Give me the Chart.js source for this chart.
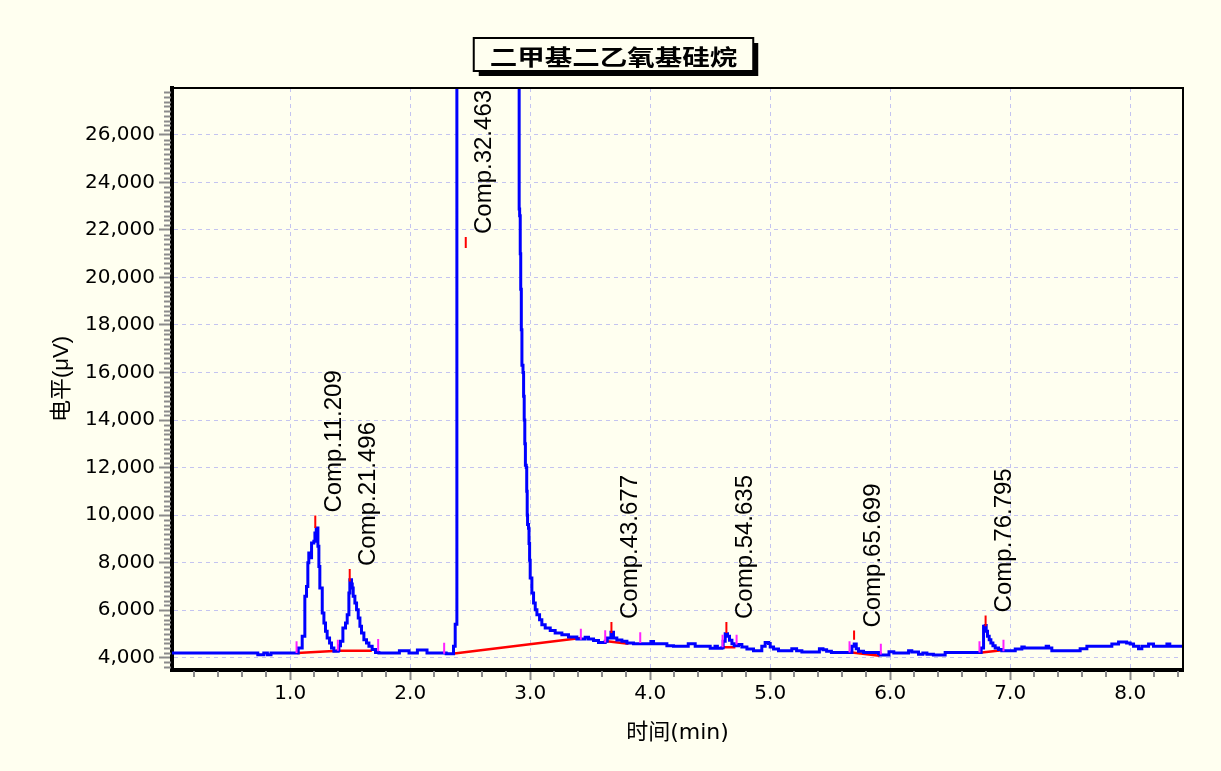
<!DOCTYPE html>
<html>
<head>
<meta charset="utf-8">
<script src="https://cdn.jsdelivr.net/npm/chart.js@4.4.1/dist/chart.umd.min.js"></script>
<style>
  html, body { margin: 0; padding: 0; background: #fffff0; }
  canvas { display: block; }
</style>
</head>
<body>
<canvas id="myChart" width="1221" height="771"></canvas>
<script>
const chartTitle = '二甲基二乙氧基硅烷';
const xTitle = '时间(min)';
const yTitle = '电平(μV)';
const xTickValues = [1, 2, 3, 4, 5, 6, 7, 8];
const yTickValues = [4000, 6000, 8000, 10000, 12000, 14000, 16000, 18000, 20000, 22000, 24000, 26000];

// detector trace (min, μV), held until the next point
const traceTime = [
  0.015, 0.73, 0.78, 0.81, 0.84, 1.067, 1.10, 1.122, 1.136, 1.147, 1.155, 1.161, 1.178, 1.197, 1.206, 1.217,
  1.231, 1.239, 1.247, 1.267, 1.281, 1.294, 1.308, 1.328, 1.344, 1.364, 1.40, 1.406, 1.419, 1.439, 1.461,
  1.475, 1.489, 1.497, 1.511, 1.517, 1.525, 1.539, 1.553, 1.567, 1.581, 1.594, 1.614, 1.636, 1.656, 1.683,
  1.711, 1.739, 1.91, 1.99, 2.06, 2.14, 2.30, 2.361, 2.375, 2.389,
  2.908, 2.912, 2.917, 2.921, 2.926, 2.931, 2.94, 2.945, 2.95, 2.955, 2.96, 2.967, 2.971, 2.975, 2.978,
  2.986, 2.99, 2.995, 3.0, 3.014, 3.028, 3.042, 3.056, 3.078, 3.097, 3.125, 3.167, 3.208, 3.264, 3.319,
  3.389, 3.458, 3.486, 3.528, 3.569, 3.625, 3.642, 3.673, 3.694, 3.722, 3.764, 3.806, 3.861, 4.006, 4.028,
  4.139, 4.194, 4.317, 4.375, 4.50, 4.54, 4.56, 4.597, 4.608, 4.625, 4.644, 4.661, 4.681, 4.70, 4.736,
  4.764, 4.806, 4.861, 4.93, 4.958, 4.986, 5.0, 5.028, 5.069, 5.18, 5.22, 5.264, 5.41, 5.44, 5.47, 5.51,
  5.681, 5.700, 5.717, 5.736, 5.778, 5.903, 5.917, 5.99, 6.03, 6.153, 6.18, 6.236, 6.272, 6.306, 6.36,
  6.458, 6.758, 6.778, 6.792, 6.80, 6.811, 6.825, 6.839, 6.856, 6.875, 6.903, 6.93, 7.042, 7.097, 7.117,
  7.30, 7.32, 7.347, 7.583, 7.639, 7.847, 7.903, 7.97, 8.0, 8.028, 8.069, 8.097, 8.153, 8.194, 8.306,
  8.33, 8.44
];
const traceLevel = [
  4200, 4120, 4200, 4120, 4200, 4410, 4900, 6580, 7000, 7990, 8410, 8200, 8830, 8900, 9250, 9460,
  8690, 7840, 6930, 5880, 5460, 5110, 4830, 4620, 4410, 4270, 4300, 4500, 4690, 5250, 5460,
  5810, 6720, 7280, 7100, 6930, 6580, 6300, 6020, 5670, 5320, 5040, 4760, 4620, 4480, 4340,
  4220, 4200, 4290, 4200, 4320, 4200, 4170, 4480, 5410, 60000,
  22880, 22600, 21000, 19500, 17800, 16300, 16000, 15000, 14000, 13000, 12100, 12000, 11000, 10000, 9600,
  9450, 8800, 8100, 7350, 6720, 6300, 6020, 5810, 5600, 5390, 5250, 5140, 5040, 4970, 4870,
  4790, 4860, 4790, 4720, 4640, 4690, 4830, 5070, 4830, 4740, 4690, 4620, 4590, 4680, 4590,
  4500, 4480, 4590, 4480, 4400, 4480, 4400, 4420, 4690, 5010, 4900, 4730, 4590, 4500, 4550,
  4450, 4370, 4290, 4480, 4640, 4600, 4450, 4370, 4290, 4380, 4290, 4240, 4380, 4330, 4270, 4220,
  4480, 4580, 4380, 4270, 4220, 4170, 4110, 4250, 4200, 4290, 4240, 4140, 4200, 4140, 4110,
  4220, 4410, 5320, 5350, 5110, 4900, 4760, 4620, 4500, 4410, 4340, 4290, 4370, 4450, 4410,
  4480, 4410, 4290, 4380, 4480, 4580, 4660, 4620, 4580, 4480, 4380, 4480, 4580, 4480, 4580,
  4480, 4480
];

// peak apex markers and names
const peakNames = ['Comp.1', 'Comp.2', 'Comp.3', 'Comp.4', 'Comp.5', 'Comp.6', 'Comp.7'];
const peakTimes = [1.209, 1.496, 2.463, 3.677, 4.635, 5.699, 6.795];
const peakMarkLow = [9460, 7210, 21240, 5040, 5040, 4760, 5320];
const peakMarkHigh = [9980, 7730, 21700, 5500, 5500, 5140, 5780];

// peak start / end marks
const edgeTimes = [1.053, 1.397, 1.733, 2.283, 3.422, 3.625, 3.917, 4.603, 4.72, 5.661, 5.922, 6.744, 6.944];
const edgeLow = [4200, 4290, 4270, 4170, 4760, 4640, 4620, 4440, 4550, 4220, 4130, 4220, 4270];
const edgeHigh = [4690, 4760, 4790, 4630, 5220, 5150, 5070, 4970, 4970, 4690, 4590, 4690, 4760];

// integration baselines
const baseStartT = [1.058, 1.40, 2.35, 3.639, 4.61, 5.681, 6.764];
const baseStartV = [4200, 4290, 4170, 4690, 4440, 4220, 4220];
const baseEndT = [1.40, 1.68, 3.422, 3.819, 4.71, 5.911, 6.931];
const baseEndV = [4290, 4290, 4830, 4590, 4440, 4080, 4310];

const bg = '#fffff0';

const trace = traceTime.map((t, i) => ({x: t, y: traceLevel[i]}));

function segs(t0, v0, t1, v1) {
  let out = [];
  for (let i = 0; i < t0.length; i++) {
    out.push({x: t0[i], y: v0[i]}, {x: t1[i], y: v1[i]}, {x: t1[i], y: null});
  }
  return out;
}

const frame = {
  id: 'frame',
  beforeDraw(chart) {
    const ctx = chart.ctx;
    ctx.save();
    ctx.fillStyle = bg;
    ctx.fillRect(0, 0, chart.width, chart.height);

    // title box with drop shadow
    ctx.font = 'bold 22px "Noto Sans CJK SC", sans-serif';
    const w = ctx.measureText(chartTitle).width * 1.25 + 32;
    const h = 33;
    const cx = chart.width / 2 + 3;
    const bx = cx - w / 2, by = 38;
    ctx.fillStyle = '#000';
    ctx.fillRect(bx + 5, by + 5, w, h);
    ctx.fillStyle = bg;
    ctx.fillRect(bx, by, w, h);
    ctx.lineWidth = 2;
    ctx.strokeStyle = '#000';
    ctx.strokeRect(bx, by, w, h);
    ctx.translate(cx, by + h / 2 + 2);
    ctx.scale(1.25, 1);
    ctx.fillStyle = '#000';
    ctx.textAlign = 'center';
    ctx.textBaseline = 'middle';
    ctx.fillText(chartTitle, 0, 0);
    ctx.restore();
  },
  afterDraw(chart) {
    const ctx = chart.ctx;
    const a = chart.chartArea;
    const xs = chart.scales.x, ys = chart.scales.y;
    ctx.save();
    // top and right frame
    ctx.strokeStyle = '#000';
    ctx.lineWidth = 2;
    ctx.beginPath();
    ctx.moveTo(a.left, a.top);
    ctx.lineTo(a.right, a.top);
    ctx.lineTo(a.right, a.bottom);
    ctx.stroke();

    // minor ticks
    ctx.strokeStyle = '#8a8a8a';
    ctx.lineWidth = 2;
    ctx.beginPath();
    for (let v = 3600; v <= 27800; v += 200) {
      if (v % 2000 === 0) continue;
      const py = Math.round(ys.getPixelForValue(v)) + 0.5;
      ctx.moveTo(a.left - 8, py);
      ctx.lineTo(a.left - 1, py);
    }
    for (let k = 1; k <= 42; k++) {
      if (k % 5 === 0) continue;
      const px = Math.round(xs.getPixelForValue(k * 0.2));
      ctx.moveTo(px, a.bottom + 1);
      ctx.lineTo(px, a.bottom + 7);
    }
    ctx.stroke();

    // peak labels
    ctx.font = '24px "Liberation Sans", Arial, sans-serif';
    ctx.fillStyle = '#000';
    ctx.textAlign = 'left';
    ctx.textBaseline = 'middle';
    peakTimes.forEach((t, i) => {
      ctx.save();
      ctx.translate(xs.getPixelForValue(t) + 19, ys.getPixelForValue(peakMarkHigh[i]) - 3);
      ctx.rotate(-Math.PI / 2);
      ctx.fillText(peakNames[i] + t.toFixed(3), 0, 0);
      ctx.restore();
    });
    ctx.restore();
  }
};

new Chart('myChart', {
  type: 'line',
  data: {
    datasets: [
      {
        label: 'peaks',
        data: segs(peakTimes, peakMarkLow, peakTimes, peakMarkHigh),
        borderColor: '#ff0000',
        borderWidth: 2,
        pointRadius: 0,
        spanGaps: false,
        order: 0
      },
      {
        label: 'edges',
        data: segs(edgeTimes, edgeLow, edgeTimes, edgeHigh),
        borderColor: '#ff22ff',
        borderWidth: 2,
        pointRadius: 0,
        spanGaps: false,
        order: 1
      },
      {
        label: 'signal',
        data: trace,
        borderColor: '#0000ff',
        borderWidth: 3,
        pointRadius: 0,
        stepped: 'before',
        order: 2
      },
      {
        label: 'baseline',
        data: segs(baseStartT, baseStartV, baseEndT, baseEndV),
        borderColor: '#ff0000',
        borderWidth: 2.5,
        pointRadius: 0,
        spanGaps: false,
        order: 3
      }
    ]
  },
  options: {
    responsive: false,
    animation: false,
    devicePixelRatio: 1,
    layout: { padding: { top: 88, right: 38, bottom: 0, left: 0 } },
    plugins: {
      legend: { display: false },
      tooltip: { enabled: false },
      title: { display: false }
    },
    scales: {
      x: {
        type: 'linear',
        min: 0.015,
        max: 8.44,
        afterBuildTicks: s => { s.ticks = xTickValues.map(v => ({value: v})); },
        afterFit: s => { s.height = 101; },
        ticks: {
          callback: v => v.toFixed(1),
          font: { family: '"DejaVu Sans"', size: 20 },
          color: '#000',
          padding: 2,
          autoSkip: false,
          maxRotation: 0
        },
        grid: { color: '#c4c4f0', lineWidth: 1, tickColor: '#8a8a8a', tickLength: 10, tickWidth: 2 },
        border: { color: '#000', width: 4, dash: [4, 4] },
        title: {
          display: true,
          text: xTitle,
          font: { family: '"DejaVu Sans", "Noto Sans CJK SC"', size: 22 },
          color: '#000',
          padding: { top: 0, bottom: 25 }
        }
      },
      y: {
        type: 'linear',
        min: 3482,
        max: 27970,
        afterBuildTicks: s => { s.ticks = yTickValues.map(v => ({value: v})); },
        afterFit: s => { s.width = 172; },
        ticks: {
          callback: v => v.toLocaleString('en-US'),
          font: { family: '"DejaVu Sans"', size: 20 },
          color: '#000',
          padding: 4,
          autoSkip: false
        },
        grid: { color: '#c4c4f0', lineWidth: 1, tickColor: '#8a8a8a', tickLength: 13, tickWidth: 2 },
        border: { color: '#000', width: 4, dash: [4, 4] },
        title: {
          display: true,
          text: yTitle,
          font: { family: '"Liberation Sans", "Noto Sans CJK SC"', size: 22 },
          color: '#000',
          padding: { top: 49, bottom: 0 }
        }
      }
    }
  },
  plugins: [frame]
});
</script>
</body>
</html>
